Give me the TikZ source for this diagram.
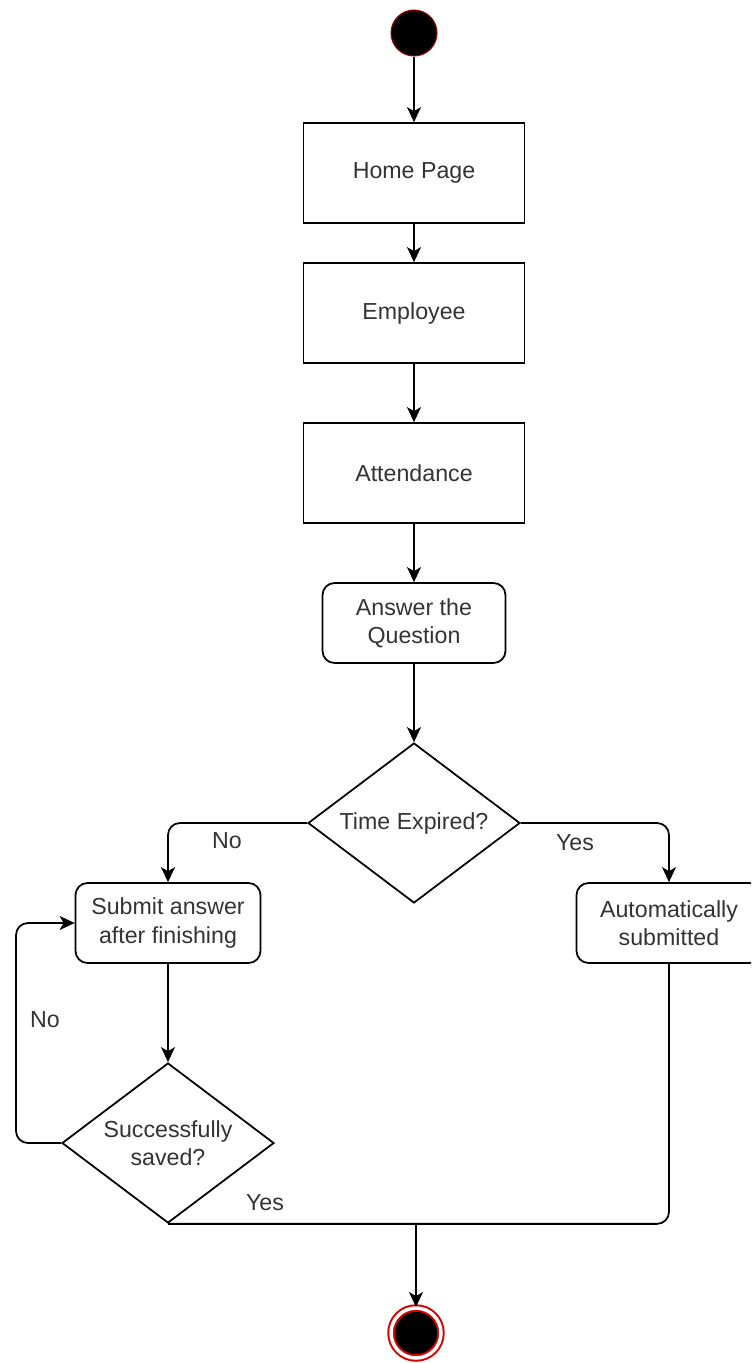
\documentclass[tikz,border=0pt]{standalone}
\usepackage{fontspec}
\setmainfont{Liberation Sans}
\usepackage{xcolor}
\usetikzlibrary{shapes,arrows,positioning,calc,arrows.meta}

\begin{document}
\begin{tikzpicture}[x=0.02cm, y=-0.02cm, line width=1pt,
        every node/.style={font=\fontsize{13.2}{16}\selectfont, text=black!80},
        >={Stealth[length=0.3cm, width=0.28cm, inset=0.08cm]},
        actbox/.style={draw, rectangle, minimum width=4.42cm, minimum height=2cm},
        roundbox/.style={draw, rectangle, rounded corners=0.24cm, minimum width=3.7cm, minimum height=1.6cm, align=center},
        decision/.style={draw, diamond, aspect=1.325, inner sep=0pt, minimum width=4.24cm, minimum height=3.2cm, align=center},
        flow/.style={->, rounded corners=0.24cm}]
        \useasboundingbox (0,0) rectangle (751,1363);
        \clip (0,0) rectangle (751,1363);

        \node[circle, fill=black, draw=red!60!black, line width=0.6pt, minimum size=0.92cm] (start) at (414,33) {};
        \node[actbox] (home) at (414,173) {Home Page};
        \node[actbox] (emp) at (414,313) {Employee};
        \node[actbox] (att) at (414,473) {Attendance};
        \node[roundbox, minimum width=3.66cm] (ans) at (414,623) {Answer the\\Question};
        \node[decision] (time) at (414,823) {Time Expired?};
        \node[roundbox] (submit) at (168,923) {Submit answer\\after finishing};
        \node[roundbox] (auto) at (669,923) {Automatically\\submitted};
        \node[decision] (saved) at (168,1143) {Successfully\\saved?};
        \node[circle, fill=black, draw=red!85!black, line width=0.04cm, double=white, double distance=0.07cm, minimum size=1cm] (stop) at (416,1333) {};

        \draw[->] (start) -- (home);
        \draw[->] (home) -- (emp);
        \draw[->] (emp) -- (att);
        \draw[->] (att) -- (ans);
        \draw[->] (ans) -- (time);
        \draw[flow] (time.west) -| (submit.north);
        \draw[flow] (time.east) -| (auto.north);
        \draw[->] (submit) -- (saved);

        % retry loop and merge into the end
        \coordinate (loop) at (16,1143);
        \draw[flow] (saved.west) -- (loop) |- (submit.west);
        \draw[rounded corners=0.24cm] (saved.south) -| (auto.south);
        \coordinate (merge) at (416,1223);
        \draw[->] (merge) -- (stop);

        \node (noTime) at (227,841) {No};
        \node (yesTime) at (575,843) {Yes};
        \node (noSaved) at (45,1020) {No};
        \node (yesSaved) at (265,1203) {Yes};
    \end{tikzpicture}
\end{document}
